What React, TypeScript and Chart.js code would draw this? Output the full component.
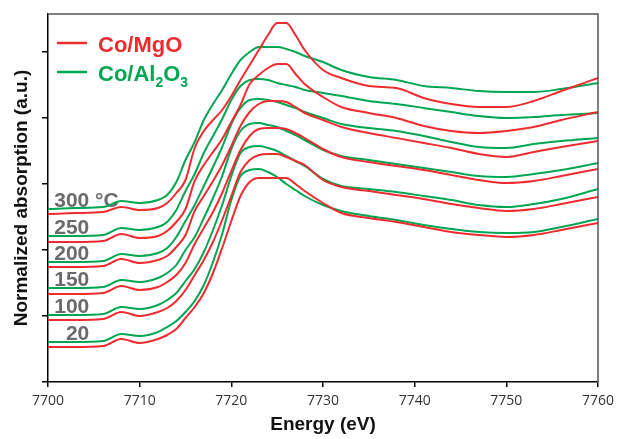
import { useEffect, useRef } from 'react';
import { Chart, registerables } from 'chart.js';

Chart.register(...registerables);

// Photon energy (eV)
const energies = [7700, 7703, 7706, 7708, 7710, 7712, 7713, 7714, 7715, 7716, 7717, 7718, 7719, 7720, 7721, 7722, 7723, 7724, 7725, 7726, 7727, 7728, 7730, 7732, 7735, 7738, 7741, 7744, 7747, 7750, 7753, 7756, 7760];

// Co/MgO spectra (a.u., stacked), 300 -> 20 °C
const mgo300 = [168, 169, 170, 175, 172, 174, 179, 189, 202, 234, 251, 262, 272, 286, 302, 317, 332, 347, 359, 359, 347, 332, 312, 304, 296, 294, 284, 278, 275, 275, 281, 291, 304];
const mgo250 = [140, 140, 141, 148, 144, 146, 151, 160, 173, 201, 217, 230, 243, 260, 277, 298, 307, 314, 318, 318, 308, 298, 285, 275, 269, 264, 256, 251, 249, 251, 255, 262, 270];
const mgo200 = [115, 115, 116, 123, 119, 122, 126, 135, 147, 171, 186, 201, 217, 236, 256, 270, 278, 281, 281, 280, 275, 269, 262, 255, 249, 244, 239, 234, 228, 225, 230, 235, 241];
const mgo150 = [88, 88, 89, 96, 92, 95, 100, 107, 119, 138, 154, 170, 189, 211, 232, 246, 253, 254, 254, 253, 249, 244, 233, 225, 220, 216, 212, 207, 202, 199, 201, 206, 213];
const mgo100 = [62, 62, 63, 70, 66, 70, 74, 81, 92, 107, 122, 140, 162, 186, 210, 222, 227, 228, 228, 225, 221, 217, 202, 195, 191, 187, 183, 178, 174, 171, 173, 178, 185];
const mgo20 = [35, 35, 36, 43, 39, 43, 47, 53, 64, 75, 89, 109, 134, 161, 186, 200, 204, 204, 204, 204, 198, 191, 179, 169, 164, 160, 155, 150, 147, 145, 147, 152, 159];

// Co/Al2O3 spectra (a.u., stacked), 300 -> 20 °C
const al300 = [173, 174, 175, 181, 179, 182, 187, 200, 222, 240, 262, 278, 292, 308, 322, 330, 335, 335, 335, 333, 330, 326, 320, 312, 305, 302, 296, 294, 291, 290, 290, 293, 299];
const al250 = [146, 146, 147, 154, 152, 155, 160, 172, 191, 208, 229, 246, 263, 282, 296, 302, 303, 302, 299, 297, 295, 292, 289, 286, 281, 278, 274, 270, 266, 264, 265, 267, 269];
const al200 = [120, 120, 121, 128, 126, 129, 134, 145, 161, 177, 196, 215, 235, 258, 274, 282, 283, 282, 280, 277, 274, 270, 264, 258, 254, 251, 246, 240, 235, 234, 238, 241, 244];
const al150 = [94, 94, 95, 102, 100, 104, 109, 117, 132, 145, 164, 184, 206, 233, 251, 258, 259, 257, 255, 251, 247, 242, 232, 226, 222, 218, 214, 210, 206, 205, 208, 212, 219];
const al100 = [67, 67, 68, 75, 73, 77, 82, 89, 101, 113, 130, 152, 177, 206, 229, 235, 236, 234, 231, 226, 221, 216, 203, 196, 193, 190, 186, 182, 177, 175, 178, 183, 193];
const al20 = [40, 40, 41, 48, 46, 50, 55, 61, 70, 81, 97, 120, 148, 182, 206, 212, 213, 210, 205, 198, 192, 186, 177, 171, 166, 162, 157, 153, 150, 149, 150, 155, 163];

const tempLabels = ['300', '250', '200', '150', '100', '20'];
const tempUnit = '°C';
const seriesNames = ['Co/MgO', 'Co/Al2O3'];
const xTitle = 'Energy (eV)';
const yTitle = 'Normalized absorption (a.u.)';
const xTickStep = 10;
const yTickStep = 66;

const mgoSeries = [mgo300, mgo250, mgo200, mgo150, mgo100, mgo20];
const alSeries = [al300, al250, al200, al150, al100, al20];

const RED = '#EE2B2F';
const GREEN = '#00A651';
const SANS = '"Liberation Sans", Arial, sans-serif';

const overlay = {
  id: 'overlay',
  beforeDatasetsDraw(chart: any) {
    const { ctx, scales } = chart;
    const xs = scales.x;
    const ys = scales.y;
    ctx.save();
    ctx.font = `bold 21px ${SANS}`;
    ctx.fillStyle = '#6b6b6b';
    ctx.textBaseline = 'alphabetic';
    const rightX = xs.getPixelForValue(7704.5);
    tempLabels.forEach((t, i) => {
      const py = ys.getPixelForValue(alSeries[i][0]) - 2;
      const w = ctx.measureText(t).width;
      const text = i === 0 ? `${t} ${tempUnit}` : t;
      ctx.fillText(text, rightX - w, py);
    });
    ctx.restore();
  },
  afterDraw(chart: any) {
    const { ctx, chartArea } = chart;
    const { left, right, top, bottom } = chartArea;
    ctx.save();
    // top and right frame
    ctx.strokeStyle = '#555';
    ctx.lineWidth = 1.5;
    ctx.beginPath();
    ctx.moveTo(left, top);
    ctx.lineTo(right, top);
    ctx.lineTo(right, bottom);
    ctx.stroke();
    // legend
    const items = [
      { text: seriesNames[0], color: RED },
      { text: seriesNames[1], color: GREEN },
    ];
    items.forEach((it, i) => {
      const ly = top + 29 + i * 29;
      ctx.strokeStyle = it.color;
      ctx.lineWidth = 2.5;
      ctx.beginPath();
      ctx.moveTo(left + 9, ly);
      ctx.lineTo(left + 39, ly);
      ctx.stroke();
      let tx = left + 50;
      const base = ly + 9;
      ctx.fillStyle = it.color;
      ctx.textBaseline = 'alphabetic';
      for (const seg of it.text.split(/(\d+)/)) {
        if (!seg) continue;
        const sub = /^\d+$/.test(seg);
        ctx.font = sub ? `bold 14px ${SANS}` : `bold 22px ${SANS}`;
        ctx.fillText(seg, tx, sub ? base + 6 : base);
        tx += ctx.measureText(seg).width;
      }
    });
    ctx.restore();
  },
};

export default function App() {
  const ref = useRef<HTMLCanvasElement | null>(null);

  useEffect(() => {
    if (!ref.current) return;
    const toPts = (arr: number[]) => energies.map((e, i) => ({ x: e, y: arr[i] }));
    const datasets: any[] = [];
    mgoSeries.forEach((s, i) => {
      datasets.push({
        label: `${seriesNames[0]} ${tempLabels[i]}`,
        data: toPts(s),
        borderColor: RED,
        backgroundColor: RED,
        borderWidth: 2,
        pointRadius: 0,
        cubicInterpolationMode: 'monotone',
        fill: false,
      });
    });
    alSeries.forEach((s, i) => {
      datasets.push({
        label: `${seriesNames[1]} ${tempLabels[i]}`,
        data: toPts(s),
        borderColor: GREEN,
        backgroundColor: GREEN,
        borderWidth: 2,
        pointRadius: 0,
        cubicInterpolationMode: 'monotone',
        fill: false,
      });
    });

    const chart = new Chart(ref.current, {
      type: 'line',
      data: { datasets },
      options: {
        animation: false,
        responsive: false,
        layout: { padding: { top: 14, right: 19, left: 0, bottom: 0 } },
        plugins: {
          legend: { display: false },
          tooltip: { enabled: false },
        },
        scales: {
          x: {
            type: 'linear',
            min: 7700,
            max: 7760,
            ticks: {
              stepSize: xTickStep,
              font: { family: '"Open Sans", sans-serif', size: 14 },
              color: '#333',
              padding: 6,
              maxRotation: 0,
              callback: (v: any) => String(v),
            },
            grid: { drawOnChartArea: false, drawTicks: true, tickLength: 5, color: '#000', lineWidth: 1.5 },
            border: { color: '#000', width: 1.5 },
            title: {
              display: true,
              text: xTitle,
              color: '#111',
              font: { family: SANS, size: 19, weight: 'bold' },
              padding: { top: 0, bottom: 3 },
            },
            afterFit: (s: any) => {
              s.height = 57;
              s.paddingLeft = 0;
              s.paddingRight = 0;
            },
          },
          y: {
            type: 'linear',
            min: 0,
            max: 368,
            ticks: { stepSize: yTickStep, display: false, includeBounds: false },
            grid: { drawOnChartArea: false, drawTicks: true, tickLength: 6, color: '#000', lineWidth: 1.5 },
            border: { color: '#000', width: 1.5 },
            title: {
              display: true,
              text: yTitle,
              color: '#111',
              font: { family: SANS, size: 19, weight: 'bold' },
              padding: { top: 10, bottom: 0 },
            },
            afterFit: (s: any) => {
              s.width = 48;
            },
          },
        },
      } as any,
      plugins: [overlay],
    });
    return () => chart.destroy();
  }, []);

  return (
    <div style={{ position: 'absolute', left: 0, top: 0, width: 617, height: 439, background: '#fff' }}>
      <canvas ref={ref} width={617} height={439} style={{ display: 'block' }} />
    </div>
  );
}
